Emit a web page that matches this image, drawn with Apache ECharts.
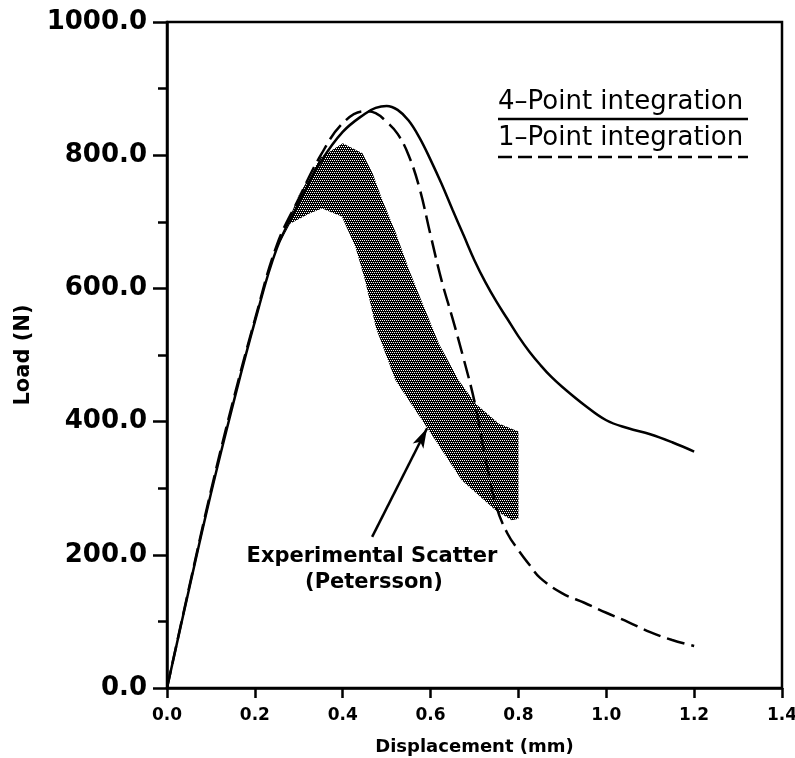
<!DOCTYPE html>
<html>
<head>
<meta charset="utf-8">
<script src="https://cdn.jsdelivr.net/npm/echarts@6/dist/echarts.min.js"></script>
<style>
  html, body { margin: 0; padding: 0; background: #fff; }
  #chart { width: 795px; height: 758px; }
</style>
</head>
<body>
<div id="chart"></div>
<script>
// 4-point integration (solid)
const fourPtX = [0, 0.05, 0.1, 0.15, 0.2, 0.25, 0.3, 0.35, 0.4, 0.45, 0.475, 0.5, 0.525, 0.55, 0.575, 0.6, 0.625, 0.65, 0.675, 0.7, 0.725, 0.75, 0.775, 0.8, 0.825, 0.85, 0.875, 0.9, 0.95, 1.0, 1.05, 1.1, 1.15, 1.2];
const fourPtY = [0, 148, 292, 425, 550, 660, 728, 790, 835, 862, 871, 874, 868, 852, 826, 793, 757, 718, 680, 642, 609, 580, 554, 528, 505, 485, 467, 452, 425, 402, 390, 381, 369, 355];

// 1-point integration (dashed)
const onePtX = [0, 0.05, 0.1, 0.15, 0.2, 0.25, 0.3, 0.35, 0.4, 0.45, 0.475, 0.5, 0.525, 0.55, 0.575, 0.6, 0.625, 0.65, 0.675, 0.7, 0.725, 0.75, 0.775, 0.8, 0.825, 0.85, 0.9, 0.95, 1.0, 1.05, 1.1, 1.15, 1.2];
const onePtY = [0, 150, 296, 430, 553, 665, 735, 800, 848, 866, 863, 850, 832, 800, 750, 680, 612, 555, 495, 430, 345, 272, 232, 207, 185, 165, 142, 128, 113, 99, 84, 72, 63];

// experimental scatter band (Petersson), upper and lower edges
const bandUpperX = [0.25, 0.3, 0.35, 0.4, 0.445, 0.468, 0.49, 0.521, 0.551, 0.574, 0.619, 0.664, 0.702, 0.755, 0.8];
const bandUpperY = [660, 740, 797, 818, 803, 773, 733, 683, 628, 590, 517, 462, 427, 397, 385];
const bandLowerX = [0.25, 0.28, 0.323, 0.353, 0.398, 0.429, 0.451, 0.476, 0.52, 0.596, 0.671, 0.748, 0.785, 0.8];
const bandLowerY = [660, 697, 712, 720, 708, 662, 612, 540, 462, 387, 312, 267, 252, 254];

// arrow pointing at the band
const arrowFrom = [0.467, 227];
const arrowTo = [0.592, 390];

const xTicks = [0, 1.4, 0.2];
const yTicks = [0, 1000, 200];

const zip = (xs, ys) => xs.map((x, i) => [x, ys[i]]);

// stipple pattern for the band
const stipple = document.createElement('canvas');
stipple.width = 4;
stipple.height = 4;
const sctx = stipple.getContext('2d');
sctx.fillStyle = '#000';
sctx.fillRect(0, 0, 4, 4);
sctx.fillStyle = '#fff';
[[0, 0], [2, 0], [1, 2], [3, 2]].forEach(([px, py]) => sctx.fillRect(px, py, 1, 1));

const chart = echarts.init(document.getElementById('chart'), null, { renderer: 'canvas' });

const bandPoly = zip(bandUpperX, bandUpperY).concat(zip(bandLowerX, bandLowerY).reverse());

const axisFont = "'DejaVu Sans', sans-serif";

chart.setOption({
  animation: false,
  backgroundColor: '#fff',
  grid: {
    left: 167, right: 13, top: 22, bottom: 70,
    outerBoundsMode: 'none', containLabel: false,
    show: true, borderColor: '#000', borderWidth: 2.5
  },
  xAxis: {
    type: 'value', min: xTicks[0], max: xTicks[1], interval: xTicks[2],
    name: 'Displacement (mm)', nameLocation: 'middle', nameGap: 50,
    nameTextStyle: { fontFamily: axisFont, fontWeight: 'bold', fontSize: 18, color: '#000' },
    axisLine: { lineStyle: { color: '#000', width: 2.5 } },
    axisTick: { length: 10, lineStyle: { color: '#000', width: 2.5 } },
    axisLabel: { margin: 19, fontFamily: axisFont, fontWeight: 'bold', fontSize: 17, color: '#000',
      formatter: v => v.toFixed(1) },
    splitLine: { show: false }
  },
  yAxis: {
    type: 'value', min: yTicks[0], max: yTicks[1], interval: yTicks[2],
    name: 'Load (N)', nameLocation: 'middle', nameGap: 133, nameRotate: 90,
    nameTextStyle: { fontFamily: axisFont, fontWeight: 'bold', fontSize: 21, color: '#000' },
    axisLine: { lineStyle: { color: '#000', width: 2.5 } },
    axisTick: { length: 14, lineStyle: { color: '#000', width: 2.5 } },
    minorTick: { show: true, splitNumber: 2, length: 9, lineStyle: { color: '#000', width: 2.5 } },
    axisLabel: { margin: 20, fontFamily: axisFont, fontWeight: 'bold', fontSize: 26, color: '#000',
      formatter: v => v.toFixed(1) },
    splitLine: { show: false }
  },
  series: [
    {
      type: 'custom',
      z: 1,
      data: [0],
      renderItem: (params, api) => ({
        type: 'polygon',
        shape: { points: bandPoly.map(p => api.coord(p)) },
        style: { fill: { image: stipple, repeat: 'repeat' }, stroke: null }
      })
    },
    {
      type: 'line', z: 3, symbol: 'none', smooth: 0.4,
      data: zip(fourPtX, fourPtY),
      lineStyle: { color: '#000', width: 2.5 },
      markLine: {
        silent: true, symbol: ['none', 'arrow'], symbolSize: [9, 20],
        label: { show: false },
        lineStyle: { color: '#000', width: 2.5, type: 'solid' },
        data: [[{ coord: arrowFrom }, { coord: arrowTo }]]
      }
    },
    {
      type: 'line', z: 3, symbol: 'none', smooth: 0.4,
      data: zip(onePtX, onePtY),
      lineStyle: { color: '#000', width: 2.5, type: [18, 7] }
    }
  ],
  graphic: [
    { type: 'text', left: 498, top: 89,
      style: { text: '4–Point integration', fontFamily: axisFont, fontSize: 26, fill: '#000' } },
    { type: 'line', shape: { x1: 498, y1: 119, x2: 748, y2: 119 },
      style: { stroke: '#000', lineWidth: 2.5 } },
    { type: 'text', left: 498, top: 125,
      style: { text: '1–Point integration', fontFamily: axisFont, fontSize: 26, fill: '#000' } },
    { type: 'line', shape: { x1: 498, y1: 157, x2: 748, y2: 157 },
      style: { stroke: '#000', lineWidth: 2.5, lineDash: [14, 6] } },
    { type: 'text', x: 372, y: 557,
      style: { text: 'Experimental Scatter', fontFamily: axisFont, fontWeight: 'bold', fontSize: 21,
        fill: '#000', align: 'center', verticalAlign: 'middle' } },
    { type: 'text', x: 374, y: 583,
      style: { text: '(Petersson)', fontFamily: axisFont, fontWeight: 'bold', fontSize: 21,
        fill: '#000', align: 'center', verticalAlign: 'middle' } }
  ]
});
</script>
</body>
</html>
